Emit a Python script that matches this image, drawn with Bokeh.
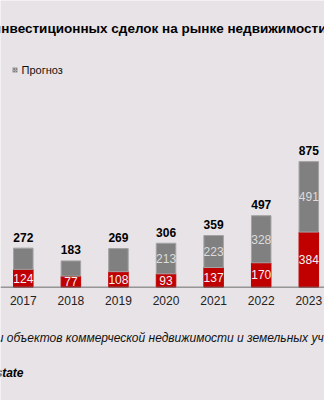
from bokeh.plotting import figure
from bokeh.models import Range1d, Label, BoxAnnotation, ColumnDataSource, Span
from bokeh.core.properties import value
from bokeh.embed import file_html
from bokeh.resources import INLINE

years = [2017, 2018, 2019, 2020, 2021, 2022, 2023]
year_labels = ["2017", "2018", "2019", "2020", "2021", "2022", "2023"]
red_vals = [124, 77, 108, 93, 137, 170, 384]
gray_vals = [148, 106, 161, 213, 223, 328, 491]
totals = [272, 183, 269, 306, 359, 497, 875]
red_labels = ["124", "77", "108", "93", "137", "170", "384"]
gray_labels = ["", "", "", "213", "223", "328", "491"]
total_labels = ["272", "183", "269", "306", "359", "497", "875"]

title_text = "Объем инвестиционных сделок на рынке недвижимости России, млрд руб."
legend_text = "Прогноз"
note_text = "* Сделки купли-продажи объектов коммерческой недвижимости и земельных участков"
source_text = "Источник: IBC Real Estate"

BG = "#e7e3e6"
RED = "#c00000"
GRAY = "#808080"
FONT = "Liberation Sans"

gray_top = [r + g for r, g in zip(red_vals, gray_vals)]
red_mid = [r / 2 for r in red_vals]
gray_mid = [r + g / 2 for r, g in zip(red_vals, gray_vals)]
zeros = [0 for _ in years]

src = ColumnDataSource(dict(
    x=years, red_top=red_vals, gray_bottom=red_vals, gray_top=gray_top,
    red_mid=red_mid, gray_mid=gray_mid, totals=totals, zeros=zeros,
    red_labels=red_labels, gray_labels=gray_labels, total_labels=total_labels,
    year_labels=year_labels,
))

p = figure(width=324, height=400, output_backend="svg", toolbar_location=None,
           x_range=Range1d(2016.521, 2023.33), y_range=Range1d(-790, 1998),
           min_border=0, background_fill_color=BG, border_fill_color=BG,
           outline_line_color=None)
p.grid.visible = False
p.axis.visible = False

p.vbar(x="x", bottom=0, top="red_top", width=0.41, source=src,
       fill_color=RED, line_color=RED)
p.vbar(x="x", bottom="gray_bottom", top="gray_top", width=0.41, source=src,
       fill_color=GRAY, line_color="#a3a3a3", line_width=1)

p.add_layout(Span(location=0, dimension="width", line_color="#6e6e6e", line_width=1))

p.text(x="x", y="red_mid", text="red_labels", source=src, text_align="center",
       text_baseline="middle", text_color="#f2f2f2", text_font_size="12px",
       text_font=value(FONT))
p.text(x="x", y="gray_mid", text="gray_labels", source=src, text_align="center",
       text_baseline="middle", text_color="#dcdcdc", text_font_size="12px",
       text_font=value(FONT))
p.text(x="x", y="totals", text="total_labels", source=src, text_align="center",
       text_baseline="middle", y_offset=-11, text_color="#000000", text_font_size="12px",
       text_font_style="bold", text_font=value(FONT))
p.text(x="x", y="zeros", text="year_labels", source=src, text_align="center",
       text_baseline="middle", y_offset=13, text_color="#222222", text_font_size="12px",
       text_font=value(FONT))

p.add_layout(Label(x=-57, y=372, x_units="screen", y_units="screen", text=title_text,
                   text_font=FONT, text_font_size="13.5px", text_font_style="bold",
                   text_color="#000000", text_baseline="middle"))
p.add_layout(BoxAnnotation(left=12, right=17, bottom=328, top=333, left_units="screen",
                           right_units="screen", bottom_units="screen", top_units="screen",
                           fill_color="#d0d0d0", fill_alpha=1, line_color=None,
                           hatch_pattern="diagonal_cross", hatch_color="#7a7a7a",
                           hatch_scale=2.5, hatch_weight=1))
p.add_layout(Label(x=21, y=331, x_units="screen", y_units="screen", text=legend_text,
                   text_font=FONT, text_font_size="11px", text_color="#111111",
                   text_baseline="middle"))
p.add_layout(Label(x=-133, y=63, x_units="screen", y_units="screen", text=note_text,
                   text_font=FONT, text_font_size="12px", text_font_style="italic",
                   text_color="#111111", text_baseline="middle"))
p.add_layout(Label(x=23, y=28, x_units="screen", y_units="screen", text=source_text,
                   text_font=FONT, text_font_size="12px", text_font_style="bold italic",
                   text_color="#000000", text_baseline="middle", text_align="right"))

open("out.html", "w").write(file_html(p, INLINE))
